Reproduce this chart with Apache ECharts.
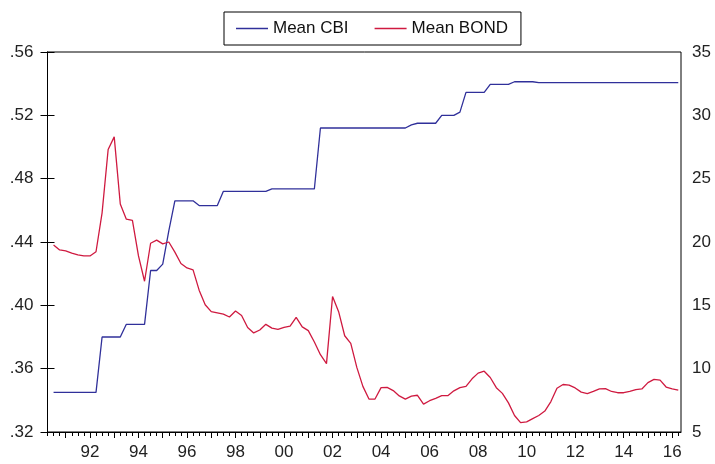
<!DOCTYPE html>
<html>
<head>
<meta charset="utf-8">
<script src="https://cdn.jsdelivr.net/npm/echarts@6/dist/echarts.min.js"></script>
<style>
  html, body { margin: 0; padding: 0; background: #fff; }
  #chart { width: 715px; height: 464px; }
</style>
</head>
<body>
<div id="chart"></div>
<script>
// Quarterly observations, 1990Q3 .. 2016Q2.
// The x axis counts quarters from the start of 1990Q2 (u = 0).
const firstQuarter = 1;   // 1990Q3

// Mean CBI (left axis)
const meanCBI = [
  0.345, 0.345, 0.345, 0.345, 0.345, 0.345, 0.345, 0.345,
  0.380, 0.380, 0.380, 0.380,
  0.388, 0.388, 0.388, 0.388,
  0.422, 0.422, 0.426, 0.447,
  0.466, 0.466, 0.466, 0.466,
  0.463, 0.463, 0.463, 0.463,
  0.472, 0.472, 0.472, 0.472, 0.472, 0.472, 0.472, 0.472,
  0.4735, 0.4735, 0.4735, 0.4735, 0.4735, 0.4735, 0.4735, 0.4735,
  0.512, 0.512, 0.512, 0.512, 0.512, 0.512, 0.512, 0.512,
  0.512, 0.512, 0.512, 0.512, 0.512, 0.512, 0.512,
  0.514, 0.515, 0.515, 0.515, 0.515,
  0.520, 0.520, 0.520, 0.522,
  0.5345, 0.5345, 0.5345, 0.5345,
  0.5396, 0.5396, 0.5396, 0.5396,
  0.5412, 0.5412, 0.5412, 0.5412,
  0.5406, 0.5406, 0.5406, 0.5406, 0.5406, 0.5406, 0.5406, 0.5406,
  0.5406, 0.5406, 0.5406, 0.5406, 0.5406, 0.5406, 0.5406, 0.5406,
  0.5406, 0.5406, 0.5406, 0.5406, 0.5406, 0.5406, 0.5406, 0.5406
];

// Mean BOND (right axis)
const meanBOND = [
  19.76, 19.37, 19.30, 19.12, 18.98, 18.90, 18.90, 19.23,
  22.30, 27.30, 28.30, 23.00, 21.80, 21.70, 18.90, 16.90,
  19.90, 20.15, 19.85, 20.00, 19.20, 18.30, 17.95, 17.80,
  16.20, 15.05, 14.50, 14.40, 14.30, 14.08, 14.55, 14.20,
  13.25, 12.82, 13.05, 13.50, 13.20, 13.10, 13.26, 13.36,
  14.05, 13.30, 13.00, 12.10, 11.10, 10.40, 15.70, 14.50,
  12.60, 12.00, 10.10, 8.60, 7.60, 7.60, 8.50, 8.52,
  8.27, 7.85, 7.60, 7.83, 7.90, 7.20, 7.47, 7.66,
  7.87, 7.87, 8.25, 8.50, 8.60, 9.20, 9.65, 9.80,
  9.30, 8.50, 8.05, 7.30, 6.30, 5.74, 5.80, 6.05,
  6.30, 6.65, 7.40, 8.45, 8.75, 8.70, 8.48, 8.15,
  8.03, 8.20, 8.40, 8.42, 8.20, 8.10, 8.10, 8.20,
  8.35, 8.40, 8.90, 9.15, 9.10, 8.55, 8.40, 8.30
];

// Year labels shown every second year
const labelYears = [1992, 1994, 1996, 1998, 2000, 2002, 2004, 2006, 2008, 2010, 2012, 2014, 2016];
const tickYears = [];
for (let y = 1990; y <= 2016; y++) tickYears.push(y);

const xMin = 0;
const xMax = 104.45;

// quarter index of the start of a year
const yearPos = (y) => (y - 1990.25) * 4;
const labelPos = labelYears.map(yearPos);
const inRange = (u) => u >= xMin && u <= xMax;
const yearTickPos = tickYears.map(yearPos).filter(inRange);
// ticks for the 2nd, 3rd and 4th quarter of every year, one set per axis
const quarterTickSets = [1, 2, 3].map((q) => tickYears.map((y) => yearPos(y) + q).filter(inRange));

const toPairs = (arr) => arr.map((v, i) => [firstQuarter + i, v]);

const font = 'Liberation Sans, Arial, sans-serif';
const blue = '#30309a';
const red = '#cf1a40';
const chart = echarts.init(document.getElementById('chart'), null, { renderer: 'canvas' });

const quarterAxes = quarterTickSets.map((ticks) => ({
  type: 'value', min: xMin, max: xMax, position: 'bottom', offset: 0,
  axisLine: { show: false },
  axisTick: { show: true, inside: false, length: 4, customValues: ticks, lineStyle: { color: '#000' } },
  axisLabel: { show: false },
  splitLine: { show: false }
}));

const quarterBindings = quarterTickSets.map((_, i) => ({
  type: 'line', xAxisIndex: i + 1, yAxisIndex: 1, data: [], silent: true,
  showSymbol: false, symbol: 'none', lineStyle: { opacity: 0 }
}));

chart.setOption({
  animation: false,
  backgroundColor: '#ffffff',
  legend: {
    top: 12,
    left: 224,
    data: ['Mean CBI', 'Mean BOND'],
    icon: 'rect',
    itemWidth: 32,
    itemHeight: 1.5,
    itemGap: 26,
    padding: [8, 13, 8, 12],
    borderColor: '#000',
    borderWidth: 1,
    textStyle: { fontFamily: font, fontSize: 17, color: '#111' }
  },
  grid: {
    left: 47.5, right: 34, top: 52, bottom: 32,
    show: true, borderColor: '#000', borderWidth: 1
  },
  xAxis: [
    {
      // year ticks and labels every second year
      type: 'value', min: xMin, max: xMax,
      axisLine: { show: true, lineStyle: { color: '#000', width: 1 } },
      axisTick: { show: true, inside: false, length: 6, customValues: yearTickPos, lineStyle: { color: '#000' } },
      axisLabel: {
        show: true, margin: 12, customValues: labelPos,
        fontFamily: font, fontSize: 17, color: '#222',
        formatter: (v) => {
          const i = labelPos.indexOf(Math.round(v));
          return i >= 0 ? String(labelYears[i]).slice(2) : '';
        }
      },
      splitLine: { show: false }
    }
  ].concat(quarterAxes),
  yAxis: [
    {
      type: 'value', min: 0.32, max: 0.56, interval: 0.04, position: 'left',
      axisLine: { show: true, lineStyle: { color: '#000' } },
      axisTick: { show: true, length: 7, lineStyle: { color: '#000' } },
      axisLabel: {
        margin: 14, fontFamily: font, fontSize: 17, color: '#222',
        formatter: (v) => v.toFixed(2).replace(/^0/, '')
      },
      splitLine: { show: false }
    },
    {
      type: 'value', min: 5, max: 35, interval: 5, position: 'right',
      axisLine: { show: true, lineStyle: { color: '#000' } },
      axisTick: { show: true, length: 7, lineStyle: { color: '#000' } },
      axisLabel: { margin: 11, fontFamily: font, fontSize: 17, color: '#222' },
      splitLine: { show: false }
    }
  ],
  series: [
    {
      name: 'Mean CBI', type: 'line', xAxisIndex: 0, yAxisIndex: 0,
      data: toPairs(meanCBI), showSymbol: false, symbol: 'none',
      lineStyle: { color: blue, width: 1.3 },
      itemStyle: { color: blue }
    },
    {
      name: 'Mean BOND', type: 'line', xAxisIndex: 0, yAxisIndex: 1,
      data: toPairs(meanBOND), showSymbol: false, symbol: 'none',
      lineStyle: { color: red, width: 1.3 },
      itemStyle: { color: red }
    }
  ].concat(quarterBindings)
});
</script>
</body>
</html>
